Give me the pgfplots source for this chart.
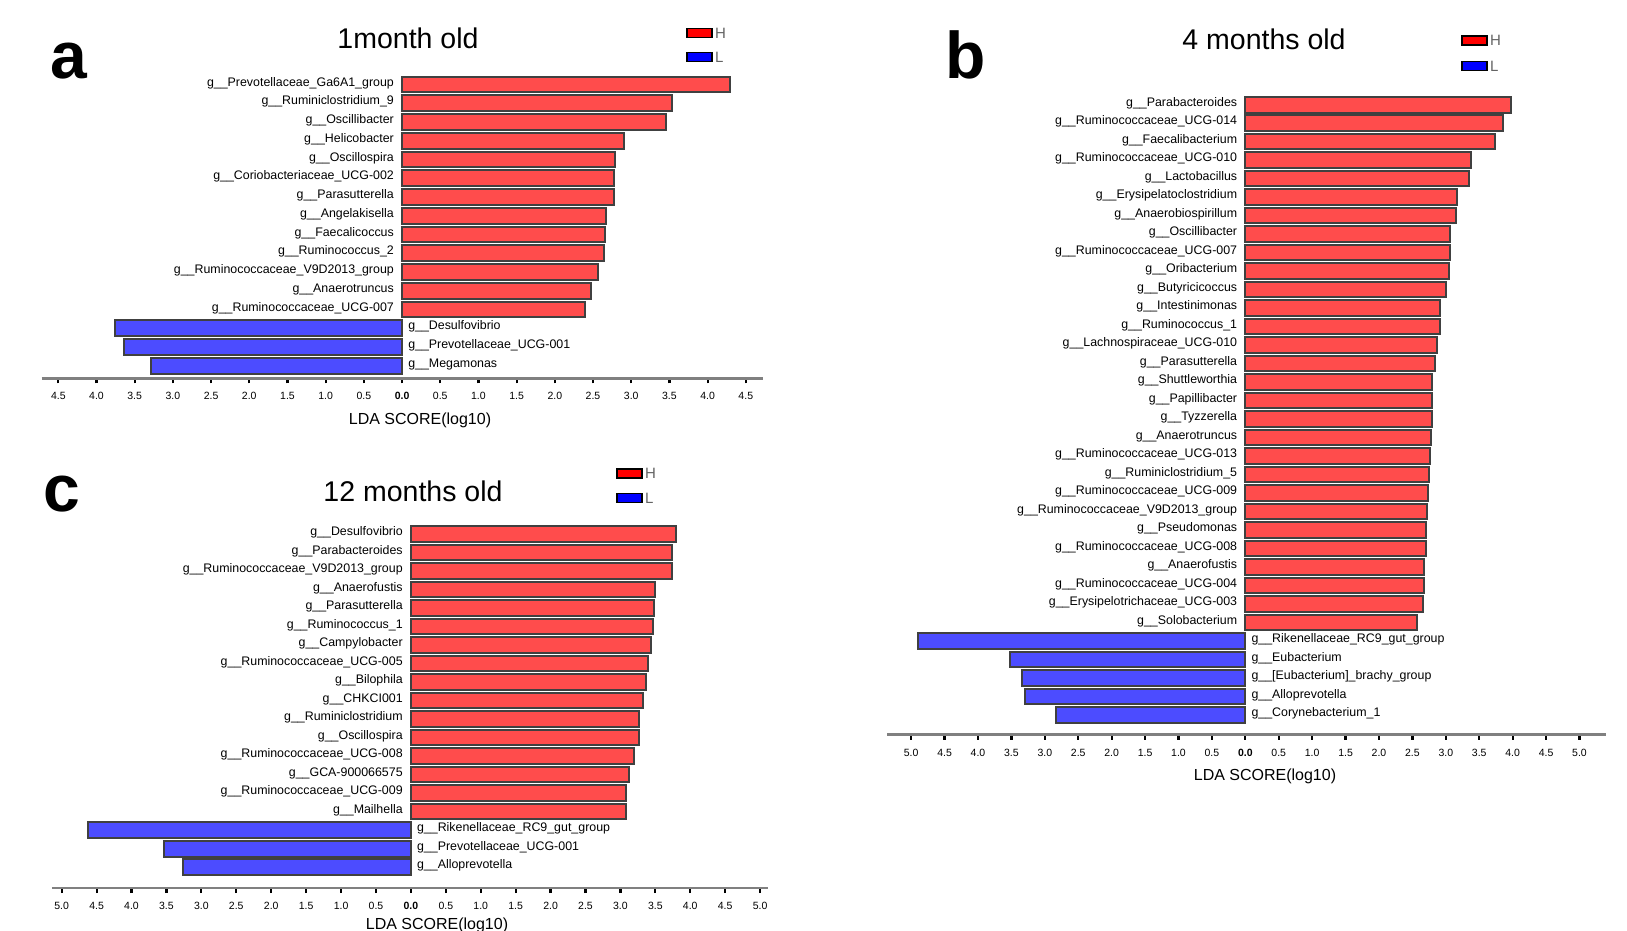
\documentclass[border=0pt]{standalone}
\usepackage{pgfplots}
\usepackage{pgfplotstable}
\pgfplotsset{compat=1.18}
\usepackage{fontspec}
\setmainfont{Liberation Sans}
\definecolor{barred}{RGB}{255,76,76}
\definecolor{barblue}{RGB}{76,76,255}
\definecolor{bardraw}{RGB}{64,64,64}
\definecolor{axgray}{RGB}{128,128,128}
\definecolor{leggray}{RGB}{100,100,100}

\pgfplotsset{
  lda/.style={
    scale only axis,
    anchor=south west,
    axis x line=bottom,
    axis y line=none,
    x axis line style={-, axgray, line width=2.5pt},
    xbar, bar width=0.84,
    tick align=outside,
    major tick length=5pt,
    every tick/.style={black, line width=2.2pt},
    ytick=\empty,
    xticklabel style={font=\fontsize{10.5}{12}\selectfont, anchor=center, yshift=-13pt},
    clip=false,
  },
  hbar/.style={fill=barred, draw=bardraw, line width=2pt, bar shift=0pt},
  lbar/.style={fill=barblue, draw=bardraw, line width=2pt, bar shift=0pt},
}
\tikzset{
  labH/.style={font=\fontsize{12.4}{14}\selectfont, inner sep=0pt, anchor=east, xshift=-8pt, yshift=1.5pt},
  labL/.style={font=\fontsize{12.4}{14}\selectfont, inner sep=0pt, anchor=west, xshift=6pt, yshift=1.5pt},
}

% Panel a
\pgfplotstableread{
pos lda
0 4.29
-1 3.53
-2 3.45
-3 2.90
-4 2.79
-5 2.77
-6 2.77
-7 2.67
-8 2.66
-9 2.64
-10 2.57
-11 2.47
-12 2.40
}\aH
\pgfplotstableread{
pos lda
-13 -3.76
-14 -3.64
-15 -3.29
}\aL
% Panel b
\pgfplotstableread{
pos lda
0 3.98
-1 3.86
-2 3.74
-3 3.37
-4 3.34
-5 3.17
-6 3.15
-7 3.06
-8 3.06
-9 3.05
-10 3.00
-11 2.91
-12 2.91
-13 2.87
-14 2.84
-15 2.80
-16 2.80
-17 2.79
-18 2.78
-19 2.76
-20 2.75
-21 2.73
-22 2.72
-23 2.71
-24 2.70
-25 2.68
-26 2.68
-27 2.66
-28 2.57
}\bH
\pgfplotstableread{
pos lda
-29 -4.90
-30 -3.52
-31 -3.34
-32 -3.29
-33 -2.84
}\bL
% Panel c
\pgfplotstableread{
pos lda
0 3.80
-1 3.74
-2 3.74
-3 3.50
-4 3.48
-5 3.46
-6 3.44
-7 3.39
-8 3.36
-9 3.32
-10 3.27
-11 3.27
-12 3.20
-13 3.12
-14 3.08
-15 3.08
}\cH
\pgfplotstableread{
pos lda
-16 -4.62
-17 -3.54
-18 -3.26
}\cL

\begin{document}
\begin{tikzpicture}
\useasboundingbox (0pt,0pt) rectangle (1627pt,-930pt);

% ---------------- Panel a ----------------
\begin{axis}[lda,
  at={(41.5pt,-378.3pt)}, width=721.1pt, height=303.3pt,
  xmin=-4.72, xmax=4.72, ymin=-15.67, ymax=0.5,
  xtick={-4.5,-4,-3.5,-3,-2.5,-2,-1.5,-1,-0.5,0,0.5,1,1.5,2,2.5,3,3.5,4,4.5},
  xticklabels={4.5,4.0,3.5,3.0,2.5,2.0,1.5,1.0,0.5,\textbf{0.0},0.5,1.0,1.5,2.0,2.5,3.0,3.5,4.0,4.5},
]
\addplot[hbar] table[x=lda,y=pos] {\aH};
\addplot[lbar] table[x=lda,y=pos] {\aL};
\node[labH] at (axis cs:0,0) {g\_\_Prevotellaceae\_Ga6A1\_group};
\node[labH] at (axis cs:0,-1) {g\_\_Ruminiclostridium\_9};
\node[labH] at (axis cs:0,-2) {g\_\_Oscillibacter};
\node[labH] at (axis cs:0,-3) {g\_\_Helicobacter};
\node[labH] at (axis cs:0,-4) {g\_\_Oscillospira};
\node[labH] at (axis cs:0,-5) {g\_\_Coriobacteriaceae\_UCG-002};
\node[labH] at (axis cs:0,-6) {g\_\_Parasutterella};
\node[labH] at (axis cs:0,-7) {g\_\_Angelakisella};
\node[labH] at (axis cs:0,-8) {g\_\_Faecalicoccus};
\node[labH] at (axis cs:0,-9) {g\_\_Ruminococcus\_2};
\node[labH] at (axis cs:0,-10) {g\_\_Ruminococcaceae\_V9D2013\_group};
\node[labH] at (axis cs:0,-11) {g\_\_Anaerotruncus};
\node[labH] at (axis cs:0,-12) {g\_\_Ruminococcaceae\_UCG-007};
\node[labL] at (axis cs:0,-13) {g\_\_Desulfovibrio};
\node[labL] at (axis cs:0,-14) {g\_\_Prevotellaceae\_UCG-001};
\node[labL] at (axis cs:0,-15) {g\_\_Megamonas};
\end{axis}

% ---------------- Panel b ----------------
\begin{axis}[lda,
  at={(887.1pt,-734.7pt)}, width=719.1pt, height=639.2pt,
  xmin=-5.36, xmax=5.40, ymin=-34.07, ymax=0.5,
  xtick={-5,-4.5,-4,-3.5,-3,-2.5,-2,-1.5,-1,-0.5,0,0.5,1,1.5,2,2.5,3,3.5,4,4.5,5},
  xticklabels={5.0,4.5,4.0,3.5,3.0,2.5,2.0,1.5,1.0,0.5,\textbf{0.0},0.5,1.0,1.5,2.0,2.5,3.0,3.5,4.0,4.5,5.0},
]
\addplot[hbar] table[x=lda,y=pos] {\bH};
\addplot[lbar] table[x=lda,y=pos] {\bL};
\node[labH] at (axis cs:0,0) {g\_\_Parabacteroides};
\node[labH] at (axis cs:0,-1) {g\_\_Ruminococcaceae\_UCG-014};
\node[labH] at (axis cs:0,-2) {g\_\_Faecalibacterium};
\node[labH] at (axis cs:0,-3) {g\_\_Ruminococcaceae\_UCG-010};
\node[labH] at (axis cs:0,-4) {g\_\_Lactobacillus};
\node[labH] at (axis cs:0,-5) {g\_\_Erysipelatoclostridium};
\node[labH] at (axis cs:0,-6) {g\_\_Anaerobiospirillum};
\node[labH] at (axis cs:0,-7) {g\_\_Oscillibacter};
\node[labH] at (axis cs:0,-8) {g\_\_Ruminococcaceae\_UCG-007};
\node[labH] at (axis cs:0,-9) {g\_\_Oribacterium};
\node[labH] at (axis cs:0,-10) {g\_\_Butyricicoccus};
\node[labH] at (axis cs:0,-11) {g\_\_Intestinimonas};
\node[labH] at (axis cs:0,-12) {g\_\_Ruminococcus\_1};
\node[labH] at (axis cs:0,-13) {g\_\_Lachnospiraceae\_UCG-010};
\node[labH] at (axis cs:0,-14) {g\_\_Parasutterella};
\node[labH] at (axis cs:0,-15) {g\_\_Shuttleworthia};
\node[labH] at (axis cs:0,-16) {g\_\_Papillibacter};
\node[labH] at (axis cs:0,-17) {g\_\_Tyzzerella};
\node[labH] at (axis cs:0,-18) {g\_\_Anaerotruncus};
\node[labH] at (axis cs:0,-19) {g\_\_Ruminococcaceae\_UCG-013};
\node[labH] at (axis cs:0,-20) {g\_\_Ruminiclostridium\_5};
\node[labH] at (axis cs:0,-21) {g\_\_Ruminococcaceae\_UCG-009};
\node[labH] at (axis cs:0,-22) {g\_\_Ruminococcaceae\_V9D2013\_group};
\node[labH] at (axis cs:0,-23) {g\_\_Pseudomonas};
\node[labH] at (axis cs:0,-24) {g\_\_Ruminococcaceae\_UCG-008};
\node[labH] at (axis cs:0,-25) {g\_\_Anaerofustis};
\node[labH] at (axis cs:0,-26) {g\_\_Ruminococcaceae\_UCG-004};
\node[labH] at (axis cs:0,-27) {g\_\_Erysipelotrichaceae\_UCG-003};
\node[labH] at (axis cs:0,-28) {g\_\_Solobacterium};
\node[labL] at (axis cs:0,-29) {g\_\_Rikenellaceae\_RC9\_gut\_group};
\node[labL] at (axis cs:0,-30) {g\_\_Eubacterium};
\node[labL] at (axis cs:0,-31) {g\_\_[Eubacterium]\_brachy\_group};
\node[labL] at (axis cs:0,-32) {g\_\_Alloprevotella};
\node[labL] at (axis cs:0,-33) {g\_\_Corynebacterium\_1};
\end{axis}

% ---------------- Panel c ----------------
\begin{axis}[lda,
  at={(51.9pt,-888pt)}, width=715.9pt, height=363.5pt,
  xmin=-5.14, xmax=5.11, ymin=-19.12, ymax=0.5,
  xtick={-5,-4.5,-4,-3.5,-3,-2.5,-2,-1.5,-1,-0.5,0,0.5,1,1.5,2,2.5,3,3.5,4,4.5,5},
  xticklabels={5.0,4.5,4.0,3.5,3.0,2.5,2.0,1.5,1.0,0.5,\textbf{0.0},0.5,1.0,1.5,2.0,2.5,3.0,3.5,4.0,4.5,5.0},
]
\addplot[hbar] table[x=lda,y=pos] {\cH};
\addplot[lbar] table[x=lda,y=pos] {\cL};
\node[labH] at (axis cs:0,0) {g\_\_Desulfovibrio};
\node[labH] at (axis cs:0,-1) {g\_\_Parabacteroides};
\node[labH] at (axis cs:0,-2) {g\_\_Ruminococcaceae\_V9D2013\_group};
\node[labH] at (axis cs:0,-3) {g\_\_Anaerofustis};
\node[labH] at (axis cs:0,-4) {g\_\_Parasutterella};
\node[labH] at (axis cs:0,-5) {g\_\_Ruminococcus\_1};
\node[labH] at (axis cs:0,-6) {g\_\_Campylobacter};
\node[labH] at (axis cs:0,-7) {g\_\_Ruminococcaceae\_UCG-005};
\node[labH] at (axis cs:0,-8) {g\_\_Bilophila};
\node[labH] at (axis cs:0,-9) {g\_\_CHKCI001};
\node[labH] at (axis cs:0,-10) {g\_\_Ruminiclostridium};
\node[labH] at (axis cs:0,-11) {g\_\_Oscillospira};
\node[labH] at (axis cs:0,-12) {g\_\_Ruminococcaceae\_UCG-008};
\node[labH] at (axis cs:0,-13) {g\_\_GCA-900066575};
\node[labH] at (axis cs:0,-14) {g\_\_Ruminococcaceae\_UCG-009};
\node[labH] at (axis cs:0,-15) {g\_\_Mailhella};
\node[labL] at (axis cs:0,-16) {g\_\_Rikenellaceae\_RC9\_gut\_group};
\node[labL] at (axis cs:0,-17) {g\_\_Prevotellaceae\_UCG-001};
\node[labL] at (axis cs:0,-18) {g\_\_Alloprevotella};
\end{axis}

% ---------------- Titles, panel letters, axis labels ----------------
\node[anchor=base, font=\fontsize{28.5}{30}\selectfont, inner sep=0pt] at (408pt,-48pt) {1month old};
\node[anchor=base, font=\fontsize{28.5}{30}\selectfont, inner sep=0pt] at (1264pt,-49pt) {4 months old};
\node[anchor=base, font=\fontsize{28.5}{30}\selectfont, inner sep=0pt] at (413pt,-501pt) {12 months old};

\node[anchor=base west, font=\fontsize{66}{70}\selectfont\bfseries, inner sep=0pt] at (50pt,-78pt) {a};
\node[anchor=base west, font=\fontsize{66}{70}\selectfont\bfseries, inner sep=0pt] at (945pt,-78pt) {b};
\node[anchor=base west, font=\fontsize{66}{70}\selectfont\bfseries, inner sep=0pt] at (43pt,-511pt) {c};

\node[font=\fontsize{16}{18}\selectfont, inner sep=0pt] at (420pt,-420pt) {LDA SCORE(log10)};
\node[font=\fontsize{16}{18}\selectfont, inner sep=0pt] at (1265pt,-776pt) {LDA SCORE(log10)};
\node[font=\fontsize{16}{18}\selectfont, inner sep=0pt] at (437pt,-925pt) {LDA SCORE(log10)};

% ---------------- Legends ----------------
\foreach \lx/\hy/\ly in {687/33/57, 1462/40.5/66, 617/473.5/498}{
  \filldraw[fill=red, draw=black, line width=1.5pt] (\lx pt,-\hy pt+4.5pt) rectangle ++(25pt,-9pt);
  \node[anchor=west, text=leggray, font=\fontsize{15}{16}\selectfont, inner sep=0pt] at (\lx pt+28pt,-\hy pt) {H};
  \filldraw[fill=blue, draw=black, line width=1.5pt] (\lx pt,-\ly pt+4.5pt) rectangle ++(25pt,-9pt);
  \node[anchor=west, text=leggray, font=\fontsize{15}{16}\selectfont, inner sep=0pt] at (\lx pt+28pt,-\ly pt) {L};
}
\end{tikzpicture}
\end{document}
